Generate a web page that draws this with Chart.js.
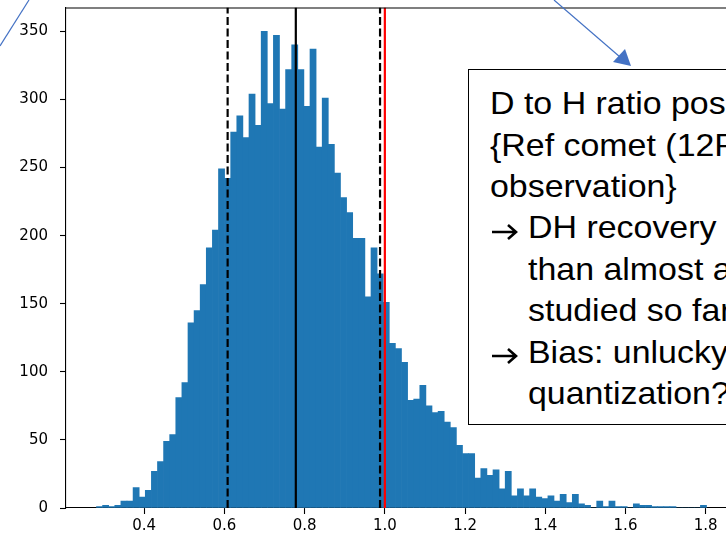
<!DOCTYPE html>
<html>
<head>
<meta charset="utf-8">
<script src="https://cdn.jsdelivr.net/npm/chart.js@4.4.0/dist/chart.umd.min.js"></script>
<style>
  html, body { margin: 0; padding: 0; background: #fff; overflow: hidden; width: 726px; height: 541px; }
  #wrap { position: relative; width: 726px; height: 541px; overflow: hidden; }
  #c { position: absolute; left: 0; top: 0; }
  #box {
    position: absolute; left: 468px; top: 69px; width: 400px; height: 356px;
    border: 1.5px solid #000; background: #fff; box-sizing: border-box;
    font-family: "Liberation Sans", Arial, sans-serif; font-size: 32px; color: #000;
  }
  .ln { position: absolute; white-space: nowrap; line-height: 41.4px; height: 41.4px;
        transform: scaleX(1.06); transform-origin: 0 0; }
  .arr { position: absolute; width: 28px; height: 16px; }
  #ov { position: absolute; left: 0; top: 0; pointer-events: none; }
</style>
</head>
<body>
<div id="wrap">
  <canvas id="c" width="760" height="541"></canvas>
  <div id="box"></div>
  <svg id="ov" width="726" height="541"></svg>
</div>
<script>
// ---- data ----
const binStart = 0.281;
const binWidth = 0.01521;
const counts = [
  1, 2, 1, 2, 5, 5, 15, 8, 13, 27,
  34, 49, 54, 81, 92, 136, 145, 164, 191, 204,
  249, 242, 276, 288, 272, 304, 281, 350, 297, 347,
  293, 322, 340, 322, 295, 337, 265, 301, 267, 246,
  228, 217, 198, 198, 155, 191, 172, 151, 121, 117,
  107, 79, 80, 90, 75, 70, 71, 63, 59, 46,
  40, 40, 22, 29, 24, 28, 14, 27, 9, 14,
  9, 14, 8, 7, 9, 5, 10, 4, 10, 3,
  2, 0, 5, 1, 5, 1, 1, 0, 3, 2,
  2, 1, 1, 1, 1, 0, 0, 0, 0, 2
];
const xTicks = [0.4, 0.6, 0.8, 1.0, 1.2, 1.4, 1.6, 1.8];
const yTicks = [0, 50, 100, 150, 200, 250, 300, 350];
const lowerQ = 0.608;
const medianV = 0.778;
const upperQ = 0.988;
const refValue = 1.0;
const xMin = 0.205, xMax = 1.878, yMax = 367.5;

const boxLines = [
  {arrow: false, indent: false, text: "D to H ratio pos"},
  {arrow: false, indent: false, text: "{Ref comet (12P"},
  {arrow: false, indent: false, text: "observation}"},
  {arrow: true,  indent: true,  text: "DH recovery"},
  {arrow: false, indent: true,  text: "than almost a"},
  {arrow: false, indent: true,  text: "studied so far"},
  {arrow: true,  indent: true,  text: "Bias: unlucky"},
  {arrow: false, indent: true,  text: "quantization?"}
];

// ---- text box ----
const box = document.getElementById('box');
const lineH = 41.4;
boxLines.forEach((l, i) => {
  const top = 13.2 + i * lineH;
  if (l.arrow) {
    const a = document.createElementNS('http://www.w3.org/2000/svg', 'svg');
    a.setAttribute('class', 'arr');
    a.setAttribute('width', '28');
    a.setAttribute('height', '16');
    a.style.left = '22px';
    a.style.top = (top + 16.5) + 'px';
    a.innerHTML = '<path d="M1 8 H25 M17 1 L25 8 L17 15" fill="none" stroke="#000" stroke-width="2.6" stroke-linejoin="miter"/>';
    box.appendChild(a);
  }
  const d = document.createElement('div');
  d.className = 'ln';
  d.style.left = (l.indent ? 58.5 : 20.5) + 'px';
  d.style.top = top + 'px';
  d.textContent = l.text;
  box.appendChild(d);
});

// ---- blue slide arrows ----
const ov = document.getElementById('ov');
ov.innerHTML =
  '<line x1="0" y1="46" x2="29" y2="0" stroke="#4472C4" stroke-width="1.2"/>' +
  '<line x1="554" y1="0" x2="620" y2="57" stroke="#4472C4" stroke-width="1.2"/>' +
  '<polygon points="631,66 613,62 625,49" fill="#4472C4"/>';

// ---- chart ----
const barData = counts.map((c, i) => ({x: binStart + binWidth * (i + 0.5), y: c}));
const vline = (v) => [{x: v, y: 0}, {x: v, y: yMax}];

const frame = {
  id: 'frame',
  afterDraw(chart) {
    const {ctx, chartArea: a} = chart;
    ctx.save();
    ctx.strokeStyle = '#000';
    ctx.lineWidth = 1.1;
    ctx.beginPath();
    ctx.moveTo(a.left, a.top + 0.5);
    ctx.lineTo(a.right, a.top + 0.5);
    ctx.lineTo(a.right, a.bottom);
    ctx.stroke();
    ctx.restore();
  }
};

const noPad = (s) => { s.paddingTop = 0; s.paddingBottom = 0; s.paddingLeft = 0; s.paddingRight = 0; };

new Chart(document.getElementById('c'), {
  data: {
    datasets: [
      {type: 'bar', data: barData, backgroundColor: '#1f77b4', borderWidth: 0,
       barPercentage: 1.0, categoryPercentage: 1.0, grouped: false, order: 10},
      {type: 'line', data: vline(lowerQ), borderColor: '#000', borderWidth: 2.2,
       borderDash: [8, 3.5], pointRadius: 0, order: 2},
      {type: 'line', data: vline(upperQ), borderColor: '#000', borderWidth: 2.2,
       borderDash: [8, 3.5], pointRadius: 0, order: 2},
      {type: 'line', data: vline(medianV), borderColor: '#000', borderWidth: 2.2,
       pointRadius: 0, order: 1},
      {type: 'line', data: vline(refValue), borderColor: '#ff0000', borderWidth: 2.2,
       pointRadius: 0, order: 1}
    ]
  },
  options: {
    responsive: false,
    animation: false,
    devicePixelRatio: 1,
    layout: {padding: {top: 7.5, right: 23, left: 0, bottom: 0}},
    plugins: {legend: {display: false}, tooltip: {enabled: false}},
    scales: {
      x: {
        type: 'linear', min: xMin, max: xMax, offset: false,
        afterBuildTicks: (s) => { s.ticks = xTicks.map(v => ({value: v})); },
        afterFit: (s) => { s.height = 33; noPad(s); },
        ticks: {callback: (v) => v.toFixed(1), color: '#000', padding: 3,
                font: {family: 'DejaVu Sans', size: 15}, maxRotation: 0, autoSkip: false},
        grid: {display: true, offset: false, drawOnChartArea: false, drawTicks: true, tickLength: 6,
               tickColor: '#000', tickWidth: 1.1},
        border: {display: true, color: '#000', width: 1.1}
      },
      y: {
        type: 'linear', min: 0, max: yMax,
        afterBuildTicks: (s) => { s.ticks = yTicks.map(v => ({value: v})); },
        afterFit: (s) => { s.width = 66; noPad(s); },
        ticks: {color: '#000', padding: 12, font: {family: 'DejaVu Sans', size: 15}},
        grid: {display: true, drawOnChartArea: false, drawTicks: true, tickLength: 6,
               tickColor: '#000', tickWidth: 1.1},
        border: {display: true, color: '#000', width: 1.1}
      }
    }
  },
  plugins: [frame]
});
</script>
</body>
</html>
